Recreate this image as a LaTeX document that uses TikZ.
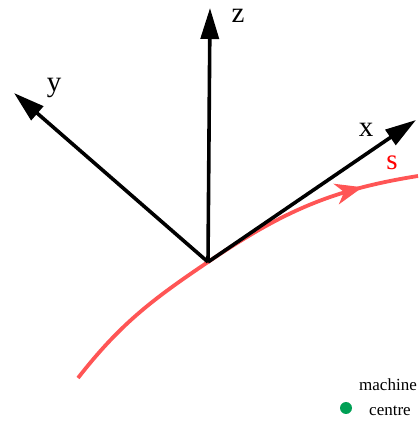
\documentclass[tikz,border=0pt]{standalone}
\usepackage{fontspec}
\setmainfont{Liberation Serif}
\usetikzlibrary{arrows.meta, decorations.markings}
\definecolor{pathred}{RGB}{255,85,85}
\definecolor{dotgreen}{RGB}{0,160,85}

\begin{document}
\begin{tikzpicture}[
  x=1pt, y=1pt,
  axis/.style={-{Triangle[length=31pt,width=18pt]}, line width=3.6pt, black},
  lbl/.style={font=\fontsize{29}{29}\selectfont, inner sep=0pt},
  small/.style={font=\fontsize{17}{17}\selectfont, inner sep=0pt},
  pathcurve/.style={line width=3.8pt, pathred, postaction={decorate},
    decoration={markings, mark=at position 0.86 with {\arrow{Stealth[length=27pt,width=21pt,inset=8pt]}}}}
]
\useasboundingbox (0,0) rectangle (420,421);
% frame origin and axis ends
\coordinate (o) at (208,159);
\coordinate (zend) at (210,413);
\coordinate (yend) at (14,328);
\coordinate (xend) at (416,301);
\coordinate (sstart) at (78,43);
\coordinate (send) at (418,245);

% path s through the origin
\draw[pathcurve] (sstart) to[out=52,in=214] (o) to[out=34,in=189] (send);

\draw[axis] (o) -- (zend);
\draw[axis] (o) -- (yend);
\draw[axis] (o) -- (xend);

\node[lbl] (zlbl) at (238,405) {z};
\node[lbl] (ylbl) at (54,333) {y};
\node[lbl] (xlbl) at (366,291) {x};
\node[lbl, text=red] (slbl) at (392,258) {s};

% machine centre
\fill[dotgreen] (346,13) circle (6pt) coordinate (mc);
\node[small] (mtop) at (388,36) {machine};
\node[small] (mbot) at (390,10) {centre};
\end{tikzpicture}
\end{document}
